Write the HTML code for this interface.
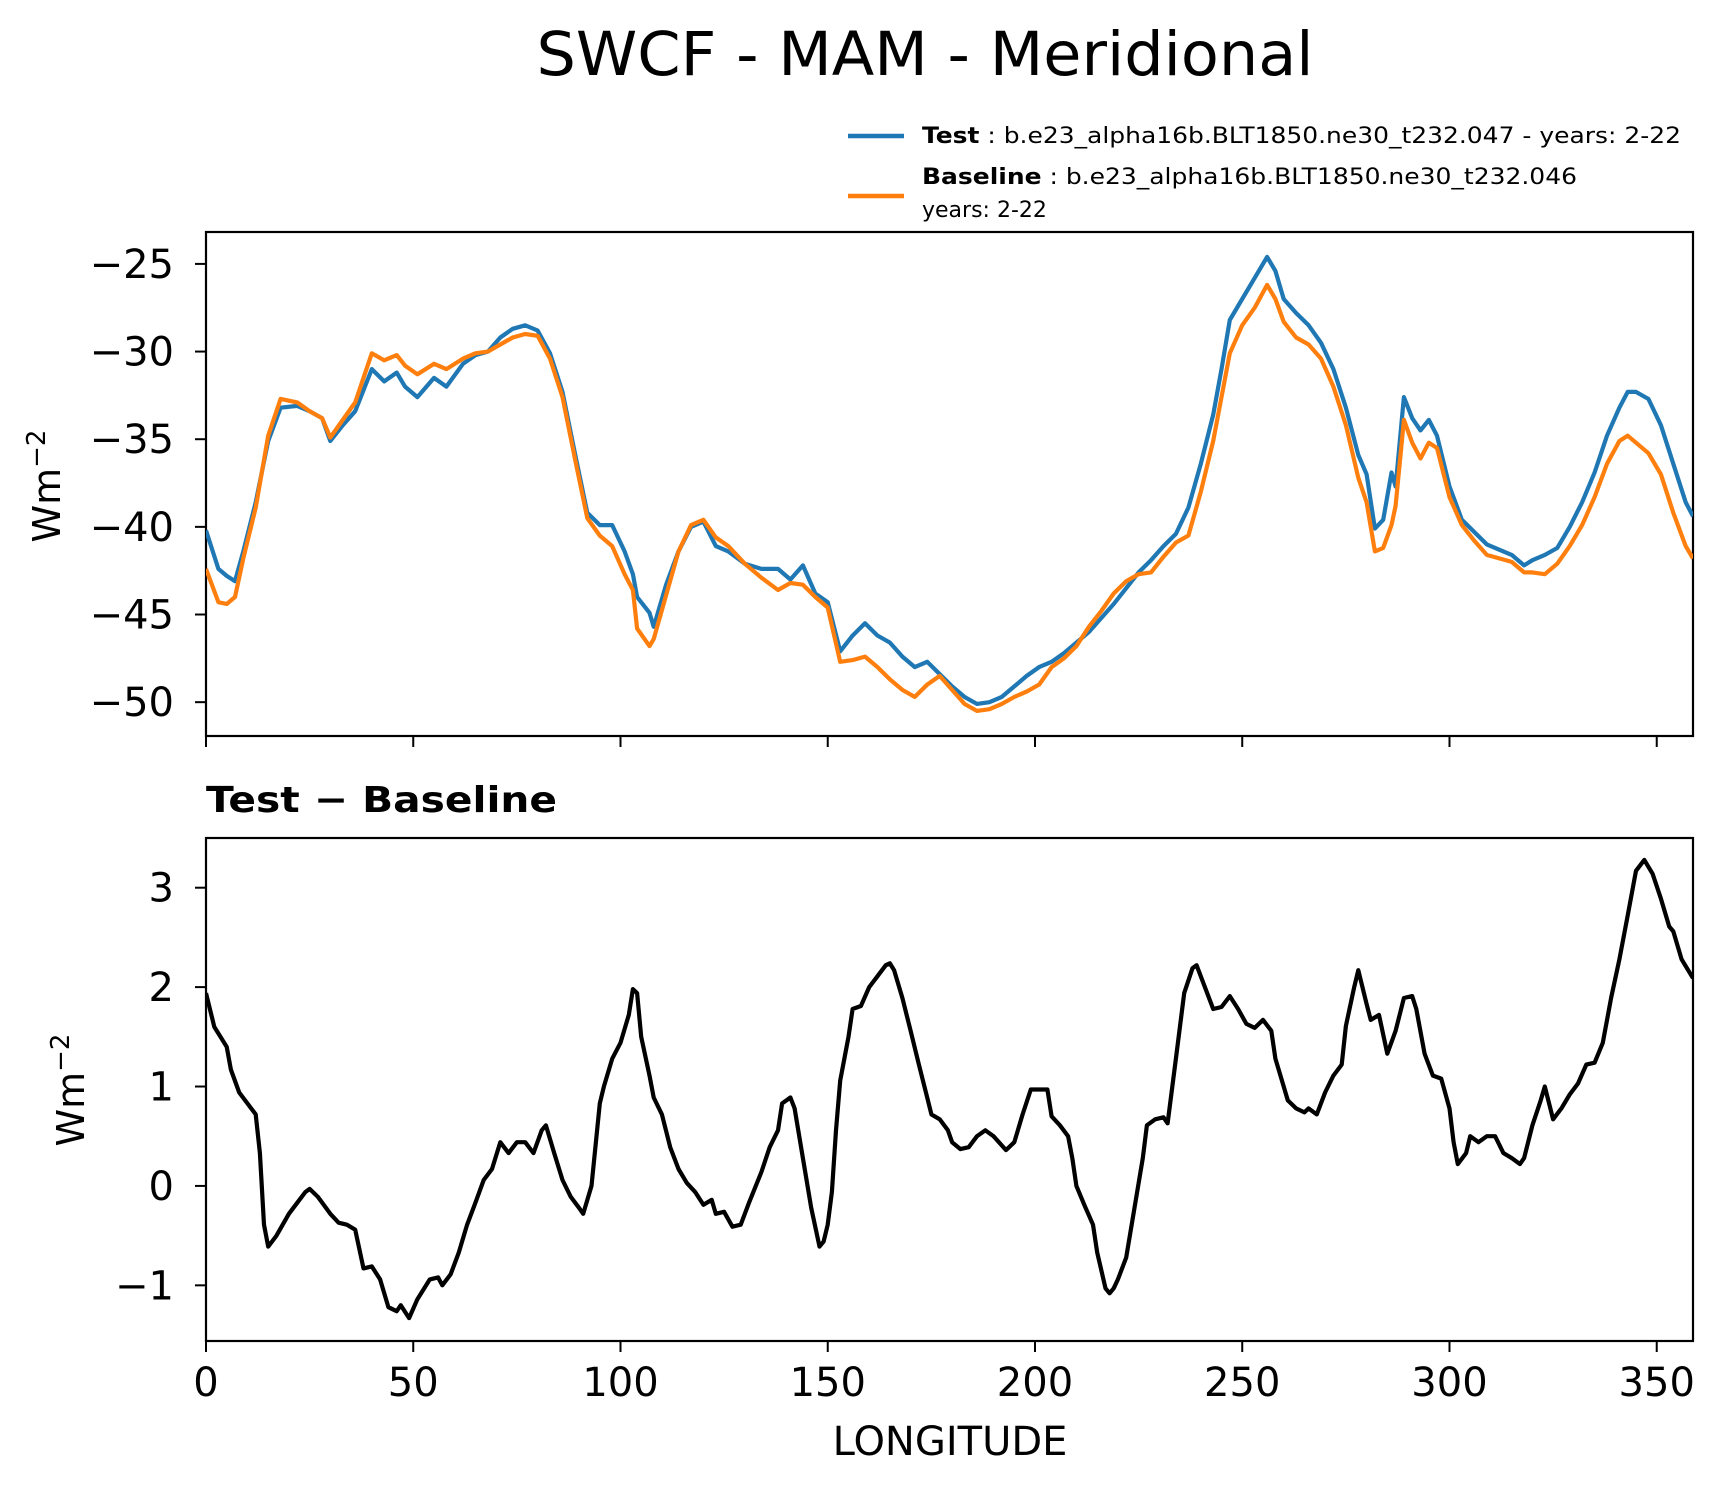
<!DOCTYPE html>
<html><head><meta charset="utf-8"><style>
body{margin:0;background:#fff}
svg{display:block;font-family:"DejaVu Sans","Liberation Sans",sans-serif}
</style></head><body>
<svg id="fig" width="1726" height="1496" viewBox="0 0 1726 1496" xmlns="http://www.w3.org/2000/svg">
<rect width="1726" height="1496" fill="#fff"/>
<text x="925" y="75" font-size="61" text-anchor="middle" textLength="777" lengthAdjust="spacingAndGlyphs">SWCF - MAM - Meridional</text>
<g>
<line x1="848" y1="136" x2="904" y2="136" stroke="#1f77b4" stroke-width="4.5"/>
<text x="922" y="143" font-size="22" textLength="759" lengthAdjust="spacingAndGlyphs"><tspan font-weight="bold">Test</tspan> : b.e23_alpha16b.BLT1850.ne30_t232.047 - years: 2-22</text>
<line x1="848" y1="196" x2="904" y2="196" stroke="#ff7f0e" stroke-width="4.5"/>
<text x="922" y="184" font-size="22" textLength="655" lengthAdjust="spacingAndGlyphs"><tspan font-weight="bold">Baseline</tspan> : b.e23_alpha16b.BLT1850.ne30_t232.046</text>
<text x="922" y="217" font-size="22">years: 2-22</text>
</g>
<text x="206" y="812" font-size="36" font-weight="bold" textLength="351" lengthAdjust="spacingAndGlyphs">Test − Baseline</text>
<text x="950" y="1455" font-size="40" text-anchor="middle">LONGITUDE</text>
<text transform="translate(60,486) rotate(-90)" font-size="38" text-anchor="middle">Wm<tspan dy="-15" font-size="26">−2</tspan></text>
<text transform="translate(84,1090) rotate(-90)" font-size="38" text-anchor="middle">Wm<tspan dy="-15" font-size="26">−2</tspan></text>
<g id="top"></g><g id="bot"></g>
</svg>
<script>
const lonT = [0,3,5,7,9,12,15,18,22,25,28,30,33,36,40,43,46,48,51,55,58,62,65,68,71,74,77,80,83,86,89,92,95,98,101,103,104,107,108,111,114,117,120,123,126,130,134,138,141,144,147,150,153,156,159,162,165,168,171,174,177,180,183,186,189,192,195,198,201,204,207,210,213,216,219,222,225,228,231,234,237,240,243,245,247,250,253,256,258,260,263,266,269,272,275,278,280,282,284,286,287,289,291,293,295,297,300,303,306,309,312,315,318,320,323,326,329,332,335,338,341,343,345,348,351,354,357,358.75];
const testVals = [-40.2,-42.4,-42.8,-43.1,-41.4,-38.6,-35.1,-33.2,-33.1,-33.4,-33.8,-35.1,-34.2,-33.4,-31.0,-31.7,-31.2,-32.0,-32.6,-31.5,-32.0,-30.7,-30.2,-30.0,-29.2,-28.7,-28.5,-28.8,-30.1,-32.3,-35.8,-39.2,-39.9,-39.9,-41.4,-42.7,-44.0,-44.9,-45.7,-43.3,-41.4,-40.0,-39.7,-41.1,-41.4,-42.1,-42.4,-42.4,-43.0,-42.2,-43.8,-44.3,-47.1,-46.2,-45.5,-46.2,-46.6,-47.4,-48.0,-47.7,-48.4,-49.1,-49.7,-50.1,-50.0,-49.7,-49.1,-48.5,-48.0,-47.7,-47.2,-46.6,-46.0,-45.2,-44.4,-43.5,-42.6,-41.9,-41.1,-40.4,-38.9,-36.4,-33.6,-31.0,-28.2,-27.0,-25.8,-24.6,-25.4,-27.0,-27.8,-28.5,-29.5,-31.0,-33.2,-35.9,-37.0,-40.1,-39.6,-36.9,-37.7,-32.6,-33.8,-34.5,-33.9,-34.8,-37.7,-39.6,-40.3,-41.0,-41.3,-41.6,-42.2,-41.9,-41.6,-41.2,-40.0,-38.6,-36.9,-34.8,-33.2,-32.3,-32.3,-32.7,-34.2,-36.4,-38.6,-39.4];
const baseVals = [-42.4,-44.3,-44.4,-44.0,-41.8,-38.9,-34.8,-32.7,-32.9,-33.4,-33.8,-34.9,-33.9,-32.9,-30.1,-30.5,-30.2,-30.8,-31.3,-30.7,-31.0,-30.4,-30.1,-30.0,-29.6,-29.2,-29.0,-29.1,-30.4,-32.6,-36.1,-39.5,-40.5,-41.1,-42.7,-43.6,-45.8,-46.8,-46.4,-43.9,-41.4,-39.9,-39.6,-40.6,-41.1,-42.1,-42.9,-43.6,-43.2,-43.3,-44.0,-44.6,-47.7,-47.6,-47.4,-48.0,-48.7,-49.3,-49.7,-49.0,-48.5,-49.3,-50.1,-50.5,-50.4,-50.1,-49.7,-49.4,-49.0,-48.0,-47.5,-46.8,-45.7,-44.8,-43.8,-43.1,-42.7,-42.6,-41.7,-40.9,-40.5,-38.0,-35.1,-32.6,-30.1,-28.5,-27.5,-26.2,-27.0,-28.3,-29.2,-29.6,-30.4,-32.0,-34.2,-37.2,-38.6,-41.4,-41.2,-39.9,-38.8,-33.9,-35.2,-36.1,-35.2,-35.5,-38.3,-39.9,-40.8,-41.6,-41.8,-42.0,-42.6,-42.6,-42.7,-42.1,-41.1,-39.9,-38.3,-36.4,-35.1,-34.8,-35.2,-35.8,-37.0,-39.2,-41.1,-41.8];
const lonD = [0,2,5,6,8,10,12,13,14,15,17,20,22,24,25,27,30,32,34,36,38,40,42,44,46,47,49,51,54,56,57,59,61,63,65,67,69,71,73,75,77,79,81,82,84,86,88,90,91,93,95,96,98,100,102,103,104,105,107,108,110,112,114,116,118,120,122,123,125,127,129,131,134,136,138,139,141,142,144,146,148,149,150,151,152,153,155,156,158,160,162,164,165,166,168,170,172,174,175,177,179,180,182,184,186,188,190,193,195,197,199,201,203,204,206,208,209,210,212,214,215,217,218,219,220,222,224,226,227,229,231,232,234,236,238,239,241,243,245,247,249,251,253,255,257,258,260,261,263,265,266,268,270,272,274,275,277,278,280,281,283,285,287,289,291,292,294,296,298,300,301,302,304,305,307,309,311,313,315,317,318,320,322,323,325,327,329,331,333,335,337,339,341,343,345,347,349,351,353,354,356,358.75];
const diffVals = [1.94,1.6,1.4,1.17,0.94,0.83,0.72,0.33,-0.39,-0.61,-0.5,-0.28,-0.17,-0.06,-0.03,-0.11,-0.28,-0.37,-0.39,-0.44,-0.83,-0.81,-0.94,-1.22,-1.26,-1.2,-1.33,-1.14,-0.94,-0.92,-1.0,-0.89,-0.67,-0.39,-0.17,0.06,0.17,0.44,0.33,0.44,0.44,0.33,0.56,0.61,0.33,0.06,-0.11,-0.22,-0.28,0.0,0.83,1.0,1.28,1.44,1.72,1.98,1.94,1.5,1.11,0.89,0.72,0.39,0.17,0.03,-0.06,-0.19,-0.14,-0.28,-0.26,-0.41,-0.39,-0.17,0.14,0.39,0.56,0.83,0.89,0.78,0.28,-0.22,-0.61,-0.56,-0.39,-0.06,0.56,1.06,1.5,1.78,1.81,2.0,2.11,2.22,2.24,2.17,1.89,1.56,1.22,0.89,0.72,0.67,0.56,0.44,0.37,0.39,0.5,0.56,0.5,0.36,0.44,0.72,0.97,0.97,0.97,0.7,0.61,0.5,0.28,0.0,-0.2,-0.39,-0.67,-1.03,-1.08,-1.03,-0.94,-0.72,-0.22,0.28,0.61,0.67,0.69,0.63,1.28,1.94,2.19,2.22,2.0,1.78,1.8,1.91,1.78,1.63,1.59,1.67,1.56,1.28,1.0,0.86,0.78,0.74,0.78,0.72,0.94,1.11,1.22,1.61,2.0,2.17,1.83,1.67,1.72,1.33,1.56,1.89,1.91,1.78,1.33,1.11,1.08,0.78,0.44,0.22,0.33,0.5,0.44,0.5,0.5,0.33,0.28,0.22,0.28,0.61,0.86,1.0,0.67,0.78,0.92,1.03,1.22,1.24,1.44,1.89,2.28,2.72,3.17,3.28,3.14,2.89,2.61,2.56,2.28,2.09];
const xTicks = [0,50,100,150,200,250,300,350];
const topYTicks = [-25,-30,-35,-40,-45,-50];
const botYTicks = [3,2,1,0,-1];

const NS='http://www.w3.org/2000/svg';
const X0=206,X1=1693,XMIN=0,XMAX=358.75;
const xs=v=>X0+(v-XMIN)/(XMAX-XMIN)*(X1-X0);
function mk(tag,attrs,parent,text){const e=document.createElementNS(NS,tag);for(const k in attrs)e.setAttribute(k,attrs[k]);if(text!==undefined)e.textContent=text;parent.appendChild(e);return e;}
function panel(g,top,bot,ymin,ymax,yt,showX,name){
  const ys=v=>bot-(v-ymin)/(ymax-ymin)*(bot-top);
  const clip=mk('clipPath',{id:'c'+name},g);
  mk('rect',{x:X0,y:top,width:X1-X0,height:bot-top},clip);
  const frame=mk('rect',{x:X0,y:top,width:X1-X0,height:bot-top,fill:'none',stroke:'#000','stroke-width':2.2},g);
  
  
  yt.forEach(t=>{
    const y=ys(t);
    const tk=mk('line',{x1:X0-11,x2:X0,y1:y,y2:y,stroke:'#000','stroke-width':2},g);
    
    
    const lb=mk('text',{x:X0-32,y:y+14,'font-size':40,'text-anchor':'end'},g,String(t).replace('-','−'));
    
    
  });
  xTicks.forEach(t=>{
    const x=xs(t);
    const tk=mk('line',{x1:x,x2:x,y1:bot,y2:bot+11,stroke:'#000','stroke-width':2},g);
    
    
    if(showX){
      const lb=mk('text',{x:x,y:bot+55,'font-size':40,'text-anchor':'middle'},g,String(t));
      
      
    }
  });
  return ys;
}
function line(g,lons,vals,ys,color,name,clipId){
  const d=lons.map((l,i)=>(i?'L':'M')+xs(l).toFixed(1)+' '+ys(vals[i]).toFixed(1)).join(' ');
  const p=mk('path',{d:d,fill:'none',stroke:color,'stroke-width':4.2,'stroke-linejoin':'round','clip-path':'url(#'+clipId+')'},g);
  
  
}
const gt=document.getElementById('top'), gb=document.getElementById('bot');




const yTop=panel(gt,232,736,-51.93,-23.18,topYTicks,false,'top');
line(gt,lonT,testVals,yTop,'#1f77b4','test-line','ctop');
line(gt,lonT,baseVals,yTop,'#ff7f0e','baseline-line','ctop');
const yBot=panel(gb,838,1341,-1.56,3.5,botYTicks,true,'bottom');
line(gb,lonD,diffVals,yBot,'#000','difference-line','cbottom');
</script>
</body></html>
